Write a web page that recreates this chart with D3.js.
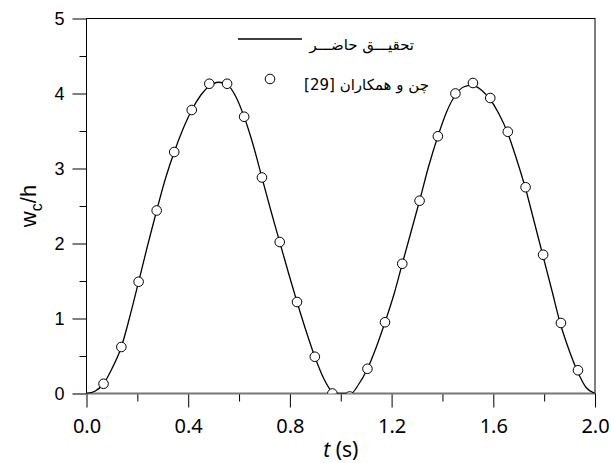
<!DOCTYPE html>
<html>
<head>
<meta charset="utf-8">
<script src="https://cdn.jsdelivr.net/npm/d3@7"></script>
<style>
  body { margin: 0; background: #fff; }
  svg { display: block; }
</style>
</head>
<body>
<div id="chart"></div>
<script>
// present study curve
var curveT = [0, 0.033, 0.067, 0.1, 0.137, 0.17, 0.205, 0.24, 0.276, 0.31, 0.345, 0.38, 0.414, 0.45, 0.483, 0.52, 0.553, 0.587, 0.62, 0.655, 0.69, 0.725, 0.76, 0.795, 0.828, 0.863, 0.898, 0.933, 0.967, 0.98, 1.04, 1.07, 1.105, 1.14, 1.174, 1.21, 1.242, 1.276, 1.31, 1.345, 1.382, 1.417, 1.451, 1.485, 1.515, 1.555, 1.588, 1.622, 1.657, 1.69, 1.727, 1.76, 1.795, 1.83, 1.863, 1.9, 1.933, 1.965, 2.0];
var curveW = [0, 0.03, 0.13, 0.33, 0.62, 1.02, 1.49, 1.97, 2.44, 2.86, 3.22, 3.53, 3.78, 3.98, 4.1, 4.15, 4.12, 3.96, 3.69, 3.32, 2.88, 2.44, 2.02, 1.6, 1.22, 0.84, 0.49, 0.2, 0.02, 0, 0, 0.12, 0.33, 0.62, 0.95, 1.33, 1.73, 2.15, 2.57, 3.02, 3.43, 3.76, 3.98, 4.09, 4.11, 4.04, 3.92, 3.73, 3.47, 3.14, 2.73, 2.3, 1.84, 1.38, 0.94, 0.56, 0.28, 0.08, 0];

// Chen et al. [29] points
var refT = [0.067, 0.137, 0.205, 0.276, 0.345, 0.414, 0.483, 0.553, 0.62, 0.69, 0.76, 0.828, 0.898, 0.967, 1.035, 1.105, 1.174, 1.242, 1.31, 1.382, 1.451, 1.52, 1.588, 1.657, 1.727, 1.796, 1.866, 1.933];
var refW = [0.13, 0.62, 1.49, 2.44, 3.22, 3.78, 4.13, 4.13, 3.69, 2.88, 2.02, 1.22, 0.49, 0, -0.04, 0.33, 0.95, 1.73, 2.57, 3.43, 4.0, 4.14, 3.94, 3.49, 2.75, 1.85, 0.94, 0.31];

var xTicks = [0, 0.4, 0.8, 1.2, 1.6, 2.0];
var xMinor = [0.2, 0.6, 1.0, 1.4, 1.8];
var yTicks = [0, 1, 2, 3, 4, 5];
var yMinor = [0.5, 1.5, 2.5, 3.5, 4.5];

var legendLabels = ["تحقیـــق حاضـــر", "چن و همکاران [29]"];

var svgWidth = 611;
var svgHeight = 463;
var margin = { top: 18.5, right: 16, bottom: 69.5, left: 86.5 };
var width = svgWidth - margin.left - margin.right;
var height = svgHeight - margin.top - margin.bottom;

var svg = d3.select("#chart")
  .append("svg")
  .attr("width", svgWidth)
  .attr("height", svgHeight);

var chartGroup = svg.append("g")
  .attr("transform", `translate(${margin.left}, ${margin.top})`);

var xScale = d3.scaleLinear().domain([0, 2]).range([0, width]);
var yScale = d3.scaleLinear().domain([0, 5]).range([height, 0]);

svg.append("defs").append("clipPath").attr("id", "plotclip")
  .append("rect").attr("width", width).attr("height", height);

// minor ticks
chartGroup.append("g")
  .attr("transform", `translate(0, ${height})`)
  .call(d3.axisBottom(xScale).tickValues(xMinor).tickSize(8).tickFormat(""))
  .call(g => g.select(".domain").remove());
chartGroup.append("g")
  .call(d3.axisLeft(yScale).tickValues(yMinor).tickSize(7).tickFormat(""))
  .call(g => g.select(".domain").remove());

// major ticks + labels
var xAxis = chartGroup.append("g")
  .attr("transform", `translate(0, ${height})`)
  .call(d3.axisBottom(xScale).tickValues(xTicks).tickSize(14).tickPadding(11).tickFormat(d3.format(".1f")))
  .call(g => g.select(".domain").remove());
xAxis.selectAll("text")
  .attr("font-family", "'Noto Sans', 'Open Sans', sans-serif")
  .attr("font-size", 20)
  .attr("fill", "#000");

var yAxis = chartGroup.append("g")
  .call(d3.axisLeft(yScale).tickValues(yTicks).tickSize(14).tickPadding(8).tickFormat(d3.format("d")))
  .call(g => g.select(".domain").remove());
yAxis.selectAll("text")
  .attr("font-family", "'Liberation Sans', Arial, sans-serif")
  .attr("font-size", 18)
  .attr("fill", "#000");
yAxis.selectAll(".tick").filter(d => d === 0).select("line").attr("stroke", "#777").attr("stroke-width", 2);

// frame
chartGroup.append("rect")
  .attr("width", width)
  .attr("height", height)
  .attr("fill", "none")
  .attr("stroke", "#000")
  .attr("stroke-width", 1);
chartGroup.append("line")
  .attr("x1", 0).attr("x2", width)
  .attr("y1", yScale(0)).attr("y2", yScale(0))
  .attr("stroke", "#777")
  .attr("stroke-width", 2);

// curve
var curveData = curveT.map((t, i) => ({ t: t, w: curveW[i] }));
var line = d3.line()
  .x(d => xScale(d.t))
  .y(d => yScale(d.w))
  .curve(d3.curveMonotoneX);

var plot = chartGroup.append("g").attr("clip-path", "url(#plotclip)");
plot.append("path")
  .datum(curveData)
  .attr("d", line)
  .attr("fill", "none")
  .attr("stroke", "#000")
  .attr("stroke-width", 1.3);

var refData = refT.map((t, i) => ({ t: t, w: refW[i] }));
plot.selectAll("circle")
  .data(refData)
  .enter()
  .append("circle")
  .attr("cx", d => xScale(d.t))
  .attr("cy", d => yScale(d.w))
  .attr("r", 4.8)
  .attr("fill", "#fff")
  .attr("stroke", "#000")
  .attr("stroke-width", 1);

// legend
svg.append("line")
  .attr("x1", 238).attr("x2", 302)
  .attr("y1", 39).attr("y2", 39)
  .attr("stroke", "#000")
  .attr("stroke-width", 1.3);
svg.append("circle")
  .attr("cx", 270).attr("cy", 79)
  .attr("r", 4.8)
  .attr("fill", "#fff")
  .attr("stroke", "#000");
svg.selectAll(".legendText")
  .data(legendLabels)
  .enter()
  .append("text")
  .attr("class", "legendText")
  .attr("x", (d, i) => i === 0 ? 414 : 429)
  .attr("y", (d, i) => i === 0 ? 50 : 90)
  .attr("direction", "rtl")
  .attr("text-anchor", "start")
  .attr("font-family", "'DejaVu Sans', sans-serif")
  .attr("font-size", 15)
  .attr("fill", "#000")
  .text(d => d);

// axis titles
var yTitle = svg.append("text")
  .attr("transform", `translate(36, ${margin.top + height / 2}) rotate(-90)`)
  .attr("text-anchor", "middle")
  .attr("font-family", "'Liberation Sans', Arial, sans-serif")
  .attr("font-size", 22)
  .attr("fill", "#000");
yTitle.append("tspan").text("w");
yTitle.append("tspan").attr("dy", 6).attr("font-size", 16).text("c");
yTitle.append("tspan").attr("dy", -6).text("/h");

var xTitle = svg.append("text")
  .attr("x", margin.left + width / 2)
  .attr("y", 457)
  .attr("text-anchor", "middle")
  .attr("font-family", "'Noto Sans', 'Open Sans', sans-serif")
  .attr("font-size", 21)
  .attr("fill", "#000");
xTitle.append("tspan").attr("font-style", "italic").text("t");
xTitle.append("tspan").text(" (s)");
</script>
</body>
</html>
